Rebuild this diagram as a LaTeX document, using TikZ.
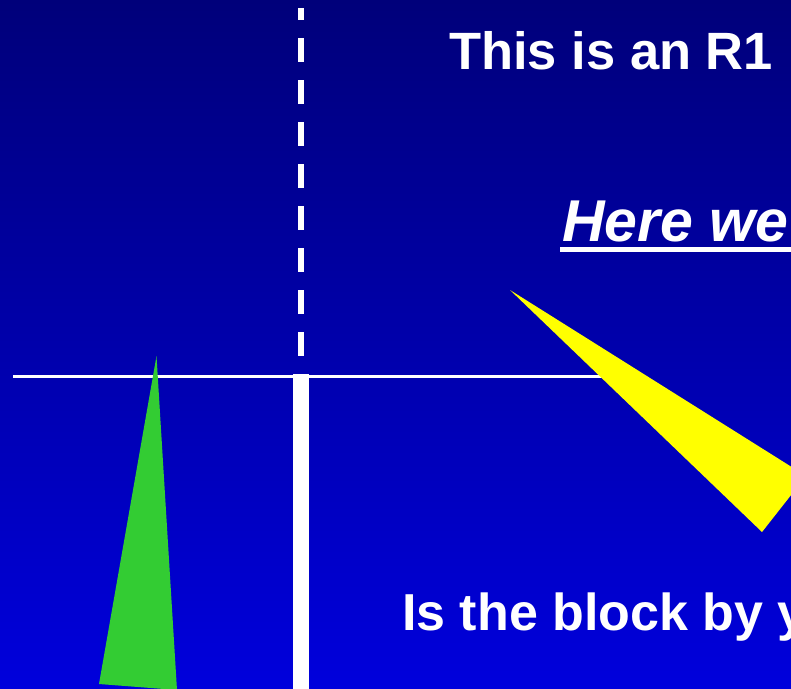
\documentclass[tikz,border=0pt]{standalone}
\usepackage{fontspec}
\setmainfont{Liberation Sans}
\definecolor{bgtop}{RGB}{0,0,122}
\definecolor{bgbot}{RGB}{0,0,220}
\definecolor{tri1}{RGB}{255,255,0}
\definecolor{tri2}{RGB}{51,204,51}
\begin{document}
\begin{tikzpicture}[x=1pt,y=-1pt,
  wline/.style={draw=white,line cap=butt},
  lbl/.style={inner sep=0pt,anchor=base west,text=white,font=\bfseries}]
\useasboundingbox (0,0) rectangle (791,688);
\clip (0,0) rectangle (791,688);
\shade[top color=bgtop,bottom color=bgbot] (0,0) rectangle (791,688);
% lines
\coordinate (dtop) at (301,8);
\coordinate (dbot) at (301,356);
\draw[wline,line width=5.5pt,dash pattern=on 24pt off 18pt,dash phase=12pt] (dtop) -- (dbot);
\coordinate (ttop) at (301,374);
\coordinate (tbot) at (301,690);
\draw[wline,line width=16pt] (ttop) -- (tbot);
\coordinate (hl) at (13,376);
\coordinate (hr) at (620,376);
\draw[wline,line width=3pt] (hl) -- (hr);
% texts
\node[lbl,font=\bfseries\fontsize{52.5}{60}\selectfont] (t1) at (449,69) {This is an R1};
\node[lbl,font=\bfseries\itshape\fontsize{59}{68}\selectfont] (t2) at (562,241) {Here we};
\coordinate (ul) at (560,249.5);
\coordinate (ur) at (795,249.5);
\draw[wline,line width=4.5pt] (ul) -- (ur);
\node[lbl,font=\bfseries\fontsize{52}{60}\selectfont] (t3) at (402,630) {Is the block by y};
% triangles
\fill[tri1] (510,290) -- (806,476) -- (762,532) -- cycle;
\fill[tri2] (156.5,356) -- (99,684) -- (177,690) -- cycle;
\end{tikzpicture}
\end{document}
